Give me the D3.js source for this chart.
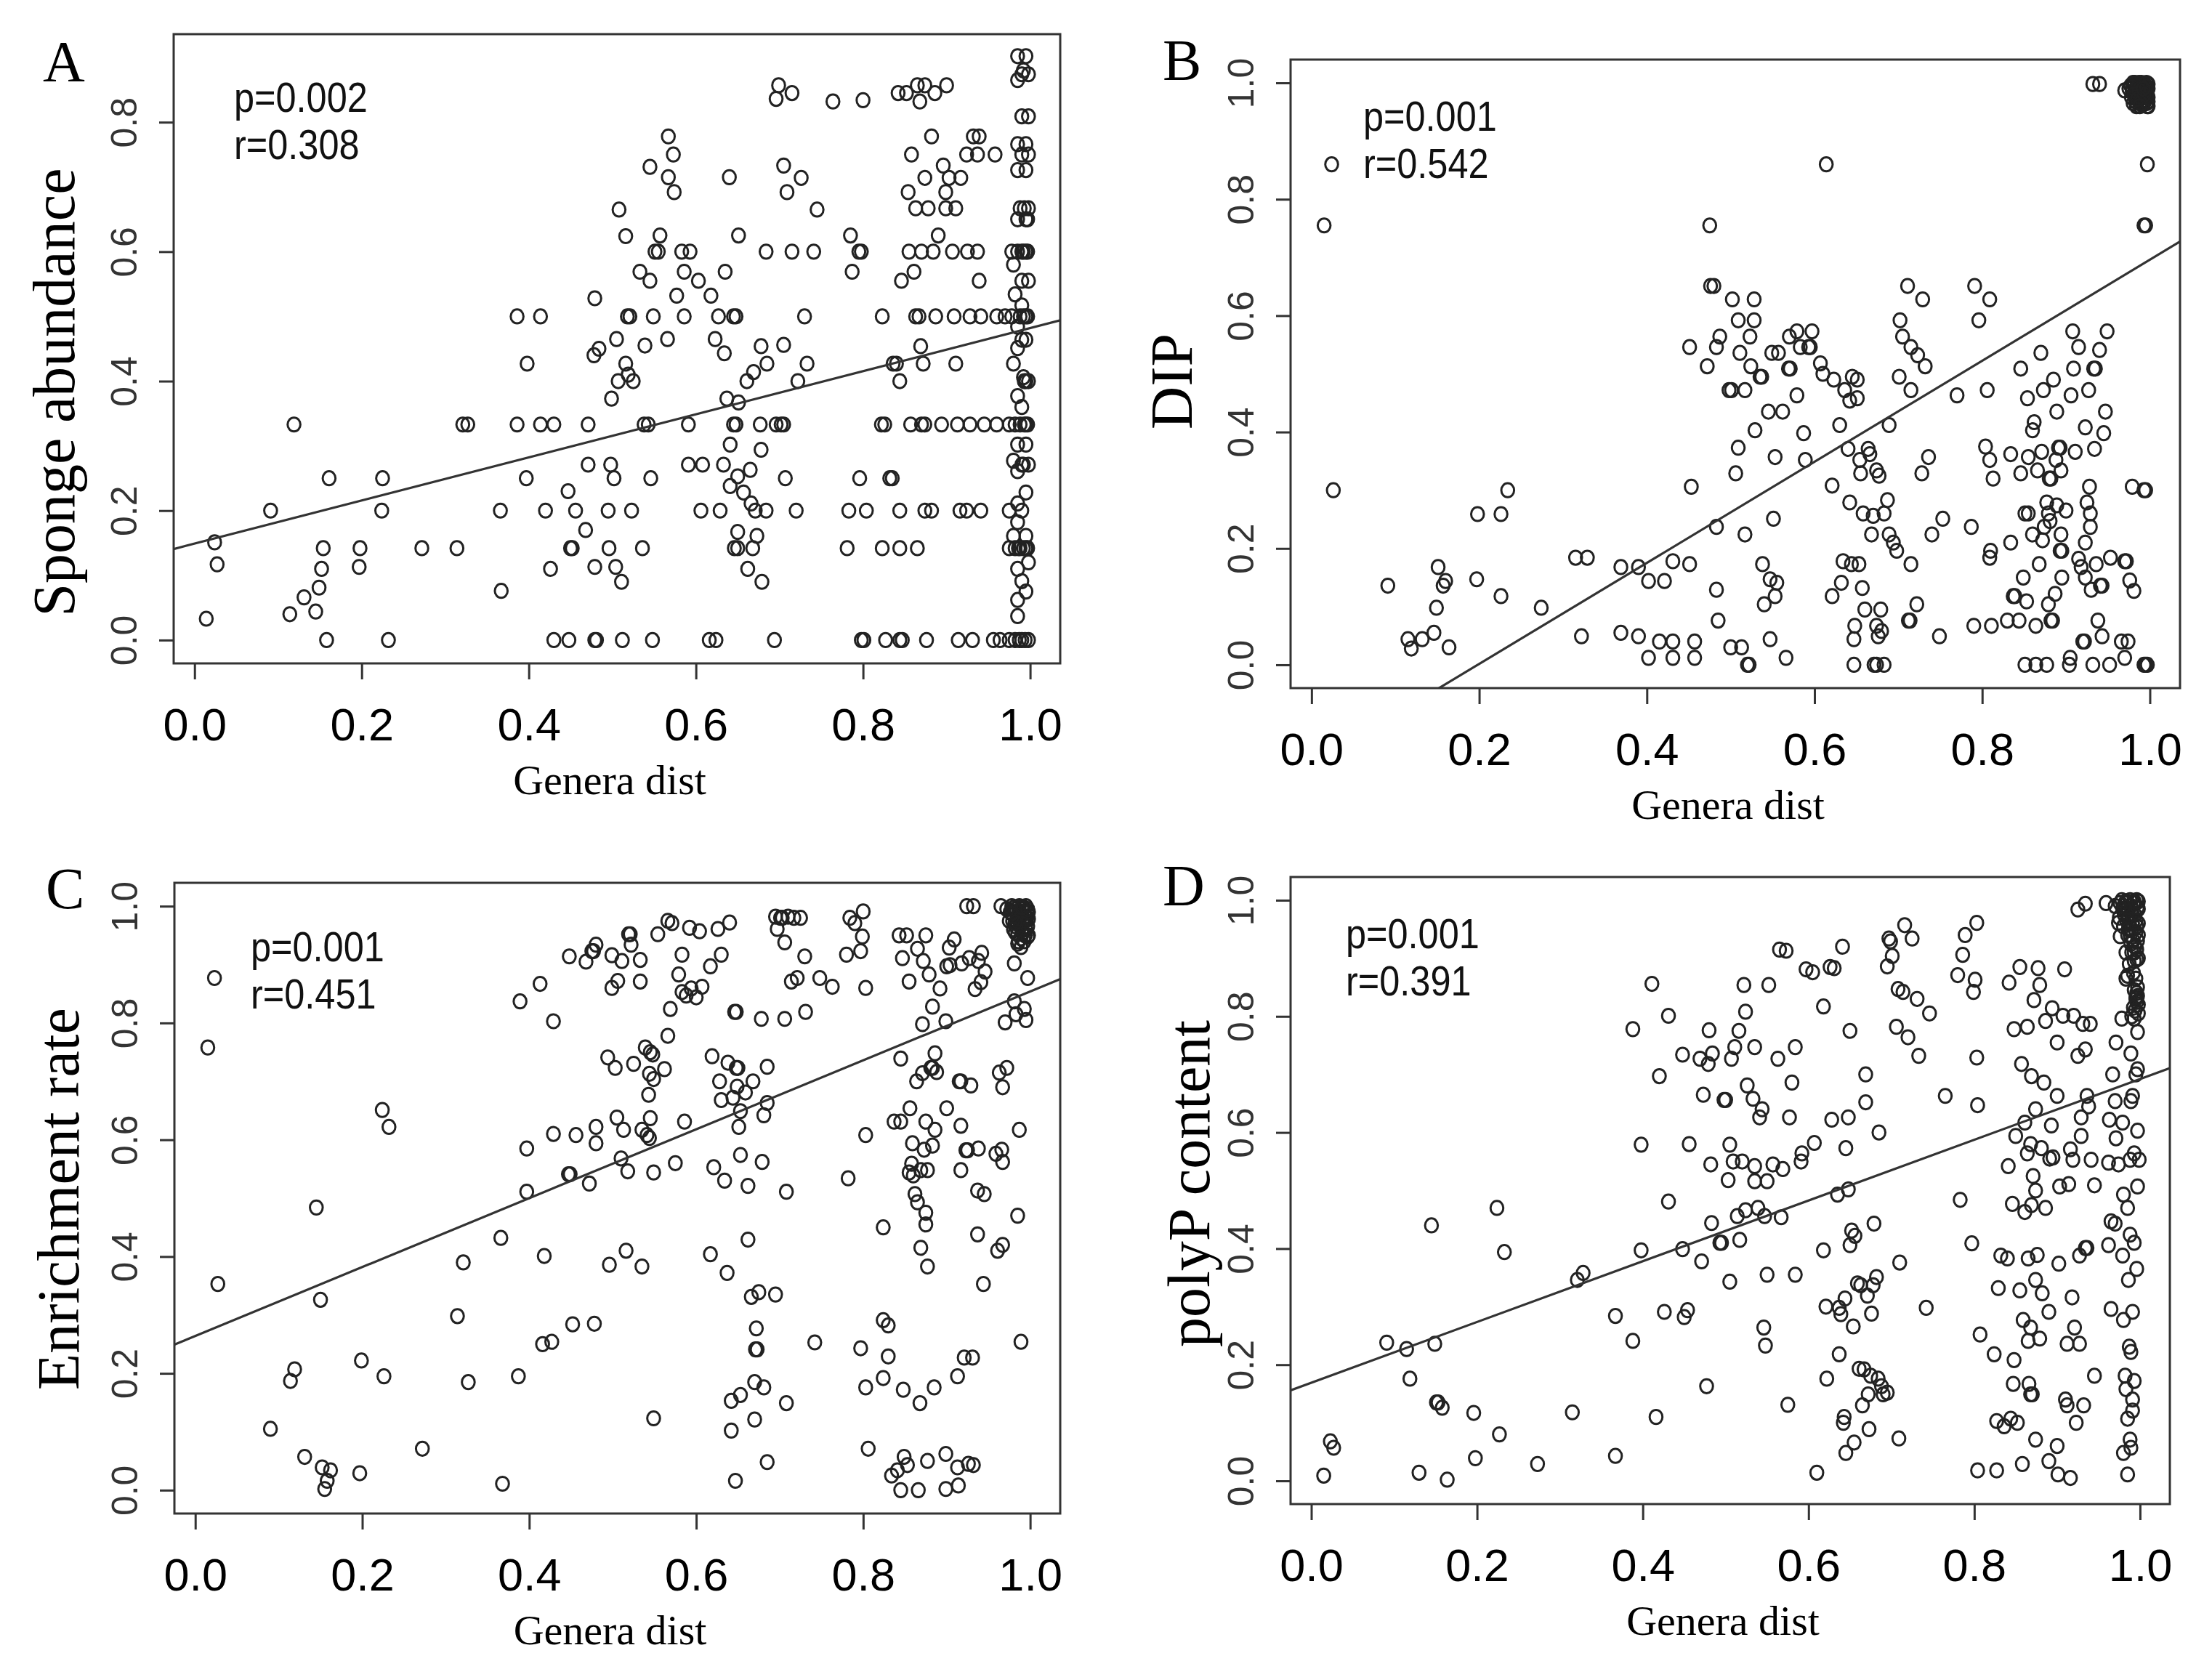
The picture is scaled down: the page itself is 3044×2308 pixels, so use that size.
<!DOCTYPE html>
<html lang="en">
<head>
<meta charset="UTF-8">
<title>Genera dist scatter plots</title>
<script src="https://d3js.org/d3.v7.min.js"></script>
<style>
  body { margin: 0; background: #fff; }
</style>
</head>
<body>
<svg id="chart" width="3044" height="2308"></svg>
<script>
// ---- data ----
const panelLetters = ["A", "B", "C", "D"];
const yTitles = ["Sponge abundance", "DIP", "Enrichment rate", "polyP content"];
const xTitle = "Genera dist";
const pVals = ["0.002", "0.001", "0.001", "0.001"];
const rVals = ["0.308", "0.542", "0.451", "0.391"];
const xTicks = [0, 0.2, 0.4, 0.6, 0.8, 1.0];
const yTicksA = [0, 0.2, 0.4, 0.6, 0.8];
const yTicksBCD = [0, 0.2, 0.4, 0.6, 0.8, 1.0];
// fitted lines: [intercept, slope]
const fitLines = [[0.149, 0.333], [-0.172, 0.868], [0.264, 0.590], [0.169, 0.523]];

const ptsA = [
  [0.014,0.033],[0.024,0.151],[0.027,0.117],[0.091,0.2],[0.114,0.04],[0.119,0.333],[0.131,0.066],[0.145,0.044],
  [0.149,0.081],[0.152,0.11],[0.154,0.142],[0.158,0],[0.161,0.25],[0.197,0.113],[0.198,0.142],[0.224,0.2],
  [0.225,0.25],[0.232,0],[0.272,0.142],[0.314,0.142],[0.321,0.333],[0.327,0.333],[0.366,0.2],[0.367,0.076],
  [0.386,0.5],[0.386,0.333],[0.397,0.25],[0.398,0.427],[0.414,0.5],[0.414,0.333],[0.42,0.2],[0.426,0.11],
  [0.43,0.333],[0.43,0],[0.447,0.23],[0.45,0.142],[0.452,0.142],[0.448,0],[0.456,0.2],[0.468,0.17],
  [0.471,0.333],[0.471,0.271],[0.479,0.528],[0.478,0.44],[0.484,0.45],[0.479,0.113],[0.479,0],[0.481,0],
  [0.495,0.2],[0.496,0.142],[0.498,0.271],[0.499,0.373],[0.502,0.25],[0.504,0.113],[0.505,0.465],[0.508,0.665],
  [0.511,0.09],[0.512,0],[0.516,0.624],[0.516,0.427],[0.507,0.4],[0.518,0.5],[0.521,0.5],[0.519,0.41],
  [0.525,0.4],[0.523,0.2],[0.533,0.569],[0.536,0.142],[0.538,0.333],[0.543,0.333],[0.539,0.455],[0.545,0.555],
  [0.545,0.731],[0.549,0.5],[0.548,0],[0.546,0.25],[0.551,0.6],[0.555,0.6],[0.557,0.625],[0.566,0.465],
  [0.567,0.778],[0.573,0.75],[0.567,0.715],[0.574,0.692],[0.577,0.532],[0.583,0.6],[0.586,0.569],[0.586,0.5],
  [0.591,0.333],[0.593,0.6],[0.591,0.271],[0.606,0.2],[0.603,0.555],[0.608,0.271],[0.618,0.532],[0.616,0],
  [0.624,0],[0.623,0.465],[0.627,0.5],[0.629,0.2],[0.633,0.271],[0.634,0.443],[0.635,0.569],[0.637,0.373],
  [0.64,0.715],[0.641,0.302],[0.641,0.238],[0.645,0.5],[0.648,0.5],[0.645,0.333],[0.648,0.333],[0.646,0.142],
  [0.65,0.142],[0.65,0.253],[0.651,0.367],[0.651,0.625],[0.65,0.167],[0.657,0.228],[0.662,0.11],[0.661,0.4],
  [0.665,0.263],[0.666,0.211],[0.668,0.142],[0.669,0.414],[0.671,0.2],[0.673,0.161],[0.677,0.333],[0.678,0.294],
  [0.678,0.454],[0.679,0.09],[0.684,0.2],[0.684,0.6],[0.685,0.427],[0.694,0],[0.696,0.836],[0.699,0.857],
  [0.696,0.333],[0.702,0.333],[0.705,0.333],[0.705,0.456],[0.705,0.733],[0.707,0.25],[0.709,0.692],[0.715,0.845],
  [0.715,0.6],[0.72,0.2],[0.722,0.4],[0.726,0.714],[0.73,0.5],[0.733,0.427],[0.741,0.6],[0.745,0.665],
  [0.764,0.832],[0.781,0.142],[0.785,0.625],[0.787,0.569],[0.783,0.2],[0.796,0.25],[0.795,0.6],[0.798,0.6],
  [0.8,0.834],[0.804,0.2],[0.798,0],[0.801,0],[0.823,0.5],[0.822,0.333],[0.826,0.333],[0.823,0.142],
  [0.827,0],[0.832,0.25],[0.835,0.25],[0.836,0.427],[0.84,0.427],[0.842,0.845],[0.844,0.142],[0.844,0.4],
  [0.844,0],[0.847,0],[0.846,0.555],[0.844,0.2],[0.852,0.845],[0.854,0.692],[0.855,0.6],[0.857,0.333],
  [0.858,0.75],[0.861,0.569],[0.863,0.667],[0.865,0.857],[0.865,0.142],[0.863,0.5],[0.867,0.5],[0.868,0.832],
  [0.869,0.454],[0.87,0.6],[0.87,0.333],[0.874,0.333],[0.874,0.857],[0.872,0.427],[0.874,0.714],[0.874,0.2],
  [0.876,0],[0.878,0.667],[0.882,0.778],[0.884,0.6],[0.882,0.2],[0.886,0.845],[0.887,0.5],[0.89,0.625],
  [0.894,0.333],[0.896,0.733],[0.899,0.692],[0.899,0.667],[0.9,0.857],[0.903,0.714],[0.907,0.6],[0.909,0.5],
  [0.911,0.427],[0.911,0.667],[0.913,0.333],[0.916,0.2],[0.917,0.714],[0.914,0],[0.924,0.2],[0.924,0.75],
  [0.925,0.6],[0.928,0.5],[0.928,0.333],[0.931,0],[0.932,0.778],[0.937,0.6],[0.939,0.555],[0.939,0.778],
  [0.941,0.2],[0.941,0.5],[0.937,0.75],[0.945,0.333],[0.958,0.75],[0.96,0.5],[0.96,0.333],[0.956,0],[0.964,0],
  [0.985,0.902],[0.995,0.902],[0.99,0.874],[0.998,0.874],[0.985,0.865],[0.99,0.809],[0.998,0.809],[0.985,0.766],
  [0.995,0.766],[0.99,0.75],[0.998,0.75],[0.985,0.726],[0.995,0.726],[0.988,0.667],[0.998,0.667],[0.985,0.65],
  [0.995,0.65],[0.978,0.6],[0.985,0.6],[0.99,0.6],[0.995,0.6],[0.98,0.58],[0.99,0.555],[0.998,0.555],
  [0.982,0.534],[0.99,0.517],[0.97,0.5],[0.978,0.5],[0.988,0.5],[0.995,0.5],[0.985,0.484],[0.99,0.464],
  [0.995,0.464],[0.985,0.451],[0.98,0.427],[0.992,0.406],[0.998,0.4],[0.995,0.4],[0.985,0.377],[0.99,0.36],
  [0.975,0.333],[0.982,0.333],[0.988,0.333],[0.995,0.333],[0.985,0.302],[0.995,0.302],[0.98,0.277],[0.99,0.271],
  [0.998,0.271],[0.985,0.261],[0.995,0.228],[0.985,0.211],[0.975,0.2],[0.99,0.2],[0.985,0.182],[0.995,0.161],
  [0.98,0.161],[0.975,0.142],[0.982,0.142],[0.988,0.142],[0.995,0.142],[0.998,0.12],[0.985,0.11],[0.99,0.091],
  [0.995,0.075],[0.985,0.062],[0.985,0.037],[0.975,0],[0.982,0],[0.99,0],[0.998,0],
  [0.992,0.6],[0.997,0.6],[0.993,0.333],[0.997,0.333],[0.992,0.142],[0.997,0.142],[0.986,0.142],[0.992,0.5],
  [0.997,0.5],[0.993,0.4],[0.992,0.271],[0.997,0.65],[0.993,0.667],[0.987,0],[0.994,0],[0.992,0.88]
];

const ptsB = [
  [0.015,0.755],[0.024,0.86],[0.026,0.3],[0.091,0.136],[0.115,0.044],[0.119,0.028],[0.132,0.044],[0.146,0.055],
  [0.149,0.098],[0.151,0.168],[0.157,0.136],[0.16,0.144],[0.164,0.03],[0.197,0.147],[0.198,0.259],[0.226,0.259],
  [0.226,0.118],[0.234,0.3],[0.274,0.098],[0.315,0.184],[0.329,0.184],[0.322,0.049],[0.369,0.168],[0.369,0.055],
  [0.39,0.168],[0.39,0.049],[0.402,0.012],[0.402,0.144],[0.415,0.04],[0.421,0.144],[0.431,0.178],[0.431,0.012],
  [0.431,0.04],[0.451,0.173],[0.451,0.546],[0.453,0.306],[0.457,0.04],[0.457,0.012],[0.472,0.513],[0.475,0.755],
  [0.476,0.651],[0.48,0.651],[0.483,0.129],[0.483,0.237],[0.485,0.076],[0.483,0.546],[0.487,0.564],[0.498,0.472],
  [0.501,0.472],[0.5,0.03],[0.502,0.628],[0.506,0.329],[0.509,0.373],[0.509,0.592],[0.511,0.536],[0.513,0.03],
  [0.517,0.472],[0.517,0.224],[0.52,0],[0.522,0],[0.523,0.564],[0.524,0.513],[0.528,0.628],[0.528,0.592],
  [0.529,0.403],[0.535,0.495],[0.537,0.495],[0.538,0.173],[0.54,0.104],[0.545,0.435],[0.547,0.147],[0.547,0.044],
  [0.549,0.536],[0.551,0.251],[0.553,0.357],[0.553,0.118],[0.555,0.141],[0.557,0.536],[0.562,0.435],[0.566,0.012],
  [0.569,0.509],[0.571,0.509],[0.57,0.564],[0.579,0.463],[0.579,0.573],[0.583,0.546],[0.587,0.398],[0.589,0.352],
  [0.593,0.546],[0.595,0.546],[0.597,0.573],[0.607,0.518],[0.61,0.5],[0.614,0.86],[0.621,0.308],[0.621,0.118],
  [0.623,0.49],[0.63,0.412],[0.632,0.141],[0.634,0.178],[0.636,0.472],[0.64,0.371],[0.642,0.279],[0.642,0.454],
  [0.644,0.173],[0.645,0.495],[0.647,0],[0.647,0.044],[0.648,0.067],[0.651,0.49],[0.651,0.458],[0.653,0.173],
  [0.654,0.352],[0.655,0.329],[0.657,0.132],[0.658,0.26],[0.66,0.095],[0.664,0.371],[0.666,0.362],[0.668,0.224],
  [0.67,0.256],[0.671,0],[0.674,0],[0.674,0.067],[0.674,0.334],[0.676,0.049],[0.677,0.325],[0.679,0.095],
  [0.68,0.058],[0.683,0],[0.683,0.26],[0.687,0.283],[0.689,0.412],[0.689,0.224],[0.694,0.21],[0.698,0.196],
  [0.701,0.495],[0.702,0.592],[0.705,0.564],[0.711,0.651],[0.712,0.076],[0.714,0.076],[0.715,0.173],[0.715,0.472],
  [0.715,0.546],[0.722,0.104],[0.723,0.532],[0.728,0.329],[0.729,0.628],[0.732,0.513],[0.736,0.357],[0.74,0.224],
  [0.749,0.049],[0.753,0.251],[0.77,0.463],[0.787,0.237],[0.79,0.067],[0.791,0.651],[0.796,0.592],[0.804,0.375],
  [0.806,0.472],[0.809,0.628],[0.809,0.352],[0.809,0.184],[0.81,0.196],[0.813,0.32],[0.811,0.067],[0.83,0.076],
  [0.834,0.21],[0.834,0.362],[0.837,0.118],[0.839,0.118],[0.844,0.076],[0.846,0.509],[0.846,0.329],[0.849,0.15],
  [0.851,0.26],[0.851,0],[0.853,0.109],[0.854,0.458],[0.855,0.357],[0.855,0.26],[0.86,0.224],[0.86,0.403],
  [0.862,0.417],[0.864,0],[0.864,0.067],[0.866,0.334],[0.868,0.173],[0.87,0.536],[0.871,0.366],[0.872,0.214],
  [0.873,0.472],[0.874,0.237],[0.877,0],[0.877,0.279],[0.879,0.104],[0.879,0.26],[0.88,0.32],[0.882,0.32],
  [0.881,0.247],[0.882,0.076],[0.884,0.076],[0.885,0.49],[0.887,0.122],[0.888,0.352],[0.889,0.435],[0.889,0.274],
  [0.891,0.373],[0.893,0.373],[0.894,0.334],[0.894,0.224],[0.893,0.196],[0.895,0.196],[0.895,0.15],[0.9,0.265],
  [0.904,0],[0.905,0.012],[0.906,0.463],[0.908,0.573],[0.909,0.509],[0.911,0.366],[0.915,0.182],[0.915,0.546],
  [0.918,0.168],[0.92,0.04],[0.922,0.04],[0.923,0.408],[0.923,0.21],[0.923,0.15],[0.925,0.279],[0.927,0.472],
  [0.928,0.306],[0.929,0.26],[0.929,0.237],[0.93,0.129],[0.932,0],[0.933,0.509],[0.935,0.509],[0.934,0.371],
  [0.936,0.173],[0.938,0.076],[0.94,0.541],[0.941,0.136],[0.943,0.136],[0.943,0.049],[0.945,0.398],[0.947,0.435],
  [0.949,0.573],[0.952,0],[0.953,0.184],[0.966,0.04],[0.97,0.012],[0.97,0.178],[0.972,0.178],[0.974,0.04],
  [0.976,0.145],[0.979,0.306],[0.981,0.127],[0.993,0.3],[0.995,0.3],[0.993,0],[0.995,0],[0.997,0],
  [0.993,0.755],[0.995,0.755],[0.997,0.86],[0.932,0.998],[0.94,0.998],[0.97,0.987],
  // dense cluster, top right
  [0.975,0.99],[0.98,1.0],[0.982,0.985],[0.985,0.998],[0.986,0.975],[0.988,0.99],[0.99,1.0],[0.99,0.965],
  [0.992,0.98],[0.993,0.995],[0.994,0.97],[0.995,0.985],[0.996,1.0],[0.997,0.96],[0.998,0.975],[0.998,0.99],
  [0.984,0.96],[0.989,0.985],[0.991,0.975],[0.996,0.965],[0.983,0.99],[0.987,1.0],
  [0.977,0.995],[0.979,0.985],[0.981,0.998],[0.983,0.975],[0.985,0.99],[0.987,0.97],[0.989,0.995],[0.991,0.985],
  [0.993,0.965],[0.995,0.975],[0.997,0.99],[0.998,0.998],[0.978,0.975],[0.98,0.965],[0.984,0.985],[0.986,0.995],
  [0.988,0.978],[0.99,0.99],[0.992,0.968],[0.994,0.99],[0.996,0.978],[0.998,0.968],[0.982,1.0],[0.986,0.983],
  [0.99,0.975],[0.994,0.998],[0.997,0.982],[0.979,0.992],[0.983,0.968],[0.987,0.988],[0.991,0.962],[0.995,0.992],
  [0.998,0.96],[0.981,0.98],[0.985,0.972],[0.989,0.965],[0.993,0.98],[0.996,0.993],[0.988,0.96],[0.992,0.99]
];

const ptsC = [
  [0.015,0.758],[0.023,0.877],[0.027,0.353],[0.09,0.105],[0.114,0.187],[0.119,0.207],[0.131,0.057],[0.145,0.484],
  [0.15,0.326],[0.152,0.039],[0.155,0.002],[0.158,0.016],[0.162,0.034],[0.197,0.029],[0.199,0.222],[0.224,0.651],
  [0.226,0.195],[0.232,0.622],[0.272,0.071],[0.314,0.298],[0.321,0.39],[0.327,0.185],[0.366,0.432],[0.368,0.011],
  [0.387,0.195],[0.389,0.837],[0.397,0.585],[0.397,0.511],[0.413,0.867],[0.418,0.401],[0.416,0.25],[0.429,0.61],
  [0.429,0.803],[0.427,0.254],[0.448,0.914],[0.447,0.541],[0.449,0.541],[0.452,0.284],[0.456,0.608],[0.468,0.905],
  [0.472,0.525],[0.475,0.923],[0.477,0.923],[0.48,0.934],[0.478,0.285],[0.48,0.622],[0.48,0.594],[0.494,0.741],
  [0.496,0.386],[0.499,0.916],[0.499,0.86],[0.503,0.723],[0.505,0.638],[0.506,0.872],[0.51,0.568],[0.511,0.906],
  [0.513,0.617],[0.516,0.41],[0.518,0.546],[0.519,0.952],[0.521,0.952],[0.522,0.934],[0.525,0.73],[0.533,0.908],
  [0.533,0.871],[0.535,0.383],[0.535,0.617],[0.539,0.758],[0.541,0.608],[0.543,0.677],[0.544,0.713],[0.544,0.603],
  [0.545,0.637],[0.545,0.75],[0.548,0.746],[0.549,0.704],[0.549,0.123],[0.549,0.544],[0.554,0.952],[0.562,0.721],
  [0.566,0.778],[0.566,0.975],[0.569,0.824],[0.571,0.971],[0.575,0.56],[0.579,0.883],[0.583,0.917],[0.583,0.853],
  [0.586,0.631],[0.588,0.847],[0.592,0.963],[0.594,0.859],[0.6,0.844],[0.604,0.957],[0.607,0.862],[0.617,0.897],
  [0.619,0.743],[0.621,0.553],[0.617,0.404],[0.626,0.961],[0.628,0.7],[0.63,0.668],[0.63,0.917],[0.634,0.53],
  [0.637,0.372],[0.638,0.732],[0.64,0.972],[0.642,0.102],[0.642,0.153],[0.644,0.672],[0.646,0.819],[0.648,0.819],
  [0.647,0.016],[0.648,0.723],[0.65,0.723],[0.649,0.691],[0.651,0.622],[0.653,0.649],[0.653,0.574],[0.653,0.163],
  [0.659,0.681],[0.662,0.521],[0.662,0.429],[0.666,0.331],[0.668,0.7],[0.67,0.121],[0.671,0.241],[0.673,0.241],
  [0.672,0.277],[0.67,0.185],[0.675,0.339],[0.678,0.807],[0.679,0.562],[0.681,0.176],[0.681,0.642],[0.685,0.048],
  [0.685,0.725],[0.685,0.663],[0.695,0.335],[0.695,0.982],[0.697,0.961],[0.701,0.98],[0.703,0.98],[0.706,0.938],
  [0.706,0.807],[0.708,0.149],[0.708,0.511],[0.71,0.982],[0.714,0.871],[0.717,0.98],[0.721,0.877],[0.725,0.98],
  [0.73,0.914],[0.731,0.819],[0.748,0.877],[0.742,0.253],[0.763,0.862],[0.78,0.917],[0.782,0.534],[0.784,0.98],
  [0.79,0.971],[0.797,0.243],[0.797,0.923],[0.799,0.948],[0.8,0.991],[0.803,0.608],[0.803,0.86],[0.803,0.176],
  [0.806,0.071],[0.824,0.45],[0.824,0.192],[0.824,0.291],[0.83,0.282],[0.83,0.229],[0.834,0.025],[0.837,0.631],
  [0.841,0.034],[0.843,0.95],[0.845,0.631],[0.845,0.739],[0.847,0.911],[0.848,0.172],[0.849,0.057],[0.852,0.95],
  [0.853,0.043],[0.845,0],[0.855,0.871],[0.855,0.544],[0.856,0.654],[0.858,0.559],[0.859,0.594],[0.86,0.539],
  [0.862,0.507],[0.864,0.7],[0.865,0.927],[0.865,0.493],[0.866,0],[0.868,0.149],[0.869,0.548],[0.869,0.415],
  [0.871,0.714],[0.871,0.798],[0.872,0.906],[0.873,0.583],[0.875,0.95],[0.875,0.475],[0.875,0.455],[0.875,0.631],
  [0.877,0.383],[0.877,0.548],[0.877,0.05],[0.879,0.883],[0.881,0.723],[0.883,0.723],[0.883,0.59],[0.883,0.828],
  [0.885,0.176],[0.886,0.617],[0.886,0.748],[0.888,0.716],[0.892,0.859],[0.899,0.062],[0.899,0.002],[0.899,0.803],
  [0.9,0.654],[0.9,0.897],[0.903,0.929],[0.904,0.899],[0.909,0.943],[0.913,0.195],[0.913,0.039],[0.914,0.008],
  [0.915,0.7],[0.917,0.7],[0.917,0.548],[0.917,0.624],[0.918,0.902],[0.921,0.227],[0.923,0.582],[0.925,0.582],
  [0.926,0.045],[0.927,0.911],[0.929,0.693],[0.931,0.227],[0.932,0.043],[0.934,0.858],[0.937,0.513],[0.938,0.585],
  [0.937,0.438],[0.938,0.906],[0.941,0.87],[0.944,0.353],[0.945,0.507],[0.942,0.92],[0.946,0.888],[0.932,1.0],
  [0.924,1.0],[0.959,0.576],[0.961,0.41],[0.963,0.715],[0.966,0.583],[0.967,0.42],[0.967,0.69],[0.967,0.562],
  [0.97,0.801],[0.972,0.723],[0.981,0.837],[0.983,0.815],[0.985,0.47],[0.987,0.617],[0.989,0.254],[0.993,0.824],
  [0.995,0.805],[0.997,0.877],[0.981,0.902],[0.985,0.936],[0.991,0.954],
  // dense cluster, top right
  [0.965,1.0],[0.972,0.995],[0.978,1.0],[0.98,0.985],[0.983,0.995],[0.985,0.97],[0.987,1.0],[0.988,0.985],
  [0.99,0.96],[0.991,0.995],[0.992,0.975],[0.993,0.99],[0.994,0.95],[0.995,1.0],[0.996,0.98],[0.997,0.965],
  [0.998,0.99],[0.982,0.955],[0.986,0.94],[0.989,0.93],[0.975,0.975],[0.998,0.95],
  [0.976,0.99],[0.979,0.975],[0.981,0.998],[0.984,0.98],[0.986,0.992],[0.988,0.965],[0.99,0.985],[0.992,0.998],
  [0.994,0.975],[0.996,0.99],[0.998,0.978],[0.983,0.965],[0.987,0.978],[0.991,0.97],[0.995,0.96],[0.997,0.995],
  [0.98,0.96],[0.985,0.952],[0.989,0.945],[0.993,0.94],[0.997,0.948],[0.978,0.988],[0.982,0.972],[0.99,0.998]
];

const ptsD = [
  [0.015,0.009],[0.023,0.068],[0.027,0.057],[0.091,0.238],[0.115,0.227],[0.119,0.176],[0.13,0.014],[0.145,0.44],
  [0.149,0.236],[0.151,0.135],[0.153,0.135],[0.158,0.126],[0.164,0.002],[0.196,0.117],[0.198,0.039],[0.224,0.47],
  [0.227,0.08],[0.233,0.394],[0.273,0.029],[0.315,0.118],[0.321,0.346],[0.328,0.358],[0.367,0.284],[0.367,0.043],
  [0.388,0.778],[0.388,0.241],[0.398,0.397],[0.398,0.579],[0.411,0.856],[0.416,0.11],[0.42,0.697],[0.426,0.291],
  [0.431,0.801],[0.431,0.481],[0.448,0.734],[0.448,0.399],[0.45,0.282],[0.454,0.294],[0.456,0.58],[0.469,0.727],
  [0.471,0.378],[0.473,0.665],[0.477,0.163],[0.479,0.718],[0.48,0.776],[0.482,0.545],[0.483,0.444],[0.484,0.736],
  [0.493,0.41],[0.495,0.41],[0.498,0.656],[0.5,0.656],[0.503,0.518],[0.505,0.579],[0.505,0.343],[0.507,0.727],
  [0.509,0.55],[0.511,0.747],[0.514,0.456],[0.516,0.775],[0.517,0.415],[0.52,0.55],[0.522,0.854],[0.524,0.466],
  [0.524,0.808],[0.526,0.681],[0.533,0.658],[0.535,0.747],[0.535,0.516],[0.535,0.542],[0.539,0.47],[0.541,0.626],
  [0.544,0.64],[0.546,0.264],[0.547,0.456],[0.548,0.233],[0.55,0.355],[0.55,0.516],[0.552,0.854],[0.557,0.545],
  [0.563,0.727],[0.565,0.915],[0.567,0.454],[0.569,0.537],[0.573,0.913],[0.575,0.131],[0.577,0.626],[0.58,0.686],
  [0.584,0.747],[0.584,0.355],[0.591,0.55],[0.592,0.564],[0.597,0.881],[0.605,0.876],[0.607,0.582],[0.61,0.014],
  [0.618,0.817],[0.618,0.397],[0.621,0.3],[0.622,0.176],[0.626,0.885],[0.628,0.622],[0.631,0.883],[0.635,0.493],
  [0.637,0.218],[0.637,0.298],[0.639,0.287],[0.641,0.92],[0.642,0.1],[0.643,0.11],[0.644,0.314],[0.645,0.573],
  [0.645,0.048],[0.648,0.626],[0.648,0.502],[0.65,0.775],[0.65,0.406],[0.652,0.431],[0.654,0.266],[0.655,0.066],
  [0.656,0.422],[0.659,0.34],[0.661,0.193],[0.663,0.337],[0.665,0.13],[0.667,0.192],[0.669,0.7],[0.669,0.652],
  [0.671,0.319],[0.672,0.149],[0.673,0.089],[0.675,0.181],[0.676,0.288],[0.678,0.337],[0.679,0.443],[0.682,0.351],
  [0.684,0.176],[0.685,0.6],[0.688,0.163],[0.69,0.149],[0.695,0.886],[0.695,0.152],[0.697,0.934],[0.699,0.929],
  [0.701,0.904],[0.706,0.782],[0.708,0.847],[0.709,0.073],[0.71,0.376],[0.714,0.842],[0.716,0.957],[0.72,0.764],
  [0.725,0.934],[0.731,0.83],[0.733,0.732],[0.742,0.298],[0.746,0.805],[0.765,0.663],[0.783,0.484],[0.78,0.871],
  [0.786,0.906],[0.789,0.94],[0.797,0.409],[0.799,0.842],[0.801,0.863],[0.803,0.961],[0.803,0.729],[0.804,0.647],
  [0.807,0.252],[0.804,0.018],[0.824,0.218],[0.827,0.018],[0.827,0.103],[0.829,0.332],[0.832,0.388],[0.836,0.094],
  [0.84,0.383],[0.841,0.542],[0.842,0.858],[0.844,0.107],[0.846,0.477],[0.847,0.167],[0.848,0.208],[0.848,0.778],
  [0.85,0.594],[0.852,0.1],[0.855,0.885],[0.855,0.328],[0.857,0.718],[0.858,0.029],[0.859,0.277],[0.861,0.617],
  [0.861,0.463],[0.864,0.564],[0.864,0.782],[0.865,0.241],[0.865,0.383],[0.866,0.167],[0.868,0.264],[0.868,0.58],
  [0.869,0.697],[0.869,0.475],[0.868,0.149],[0.87,0.149],[0.871,0.525],[0.872,0.828],[0.874,0.071],[0.874,0.64],
  [0.874,0.5],[0.874,0.346],[0.876,0.389],[0.877,0.883],[0.879,0.245],[0.879,0.854],[0.881,0.573],[0.882,0.323],
  [0.884,0.686],[0.886,0.792],[0.886,0.47],[0.89,0.291],[0.89,0.034],[0.891,0.555],[0.893,0.612],[0.894,0.814],
  [0.895,0.557],[0.9,0.755],[0.9,0.663],[0.9,0.06],[0.901,0.011],[0.902,0.374],[0.903,0.507],[0.907,0.801],
  [0.909,0.881],[0.91,0.14],[0.912,0.236],[0.912,0.13],[0.914,0.511],[0.916,0.005],[0.916,0.571],[0.918,0.316],
  [0.919,0.553],[0.92,0.801],[0.921,0.264],[0.923,0.1],[0.925,0.732],[0.925,0.984],[0.927,0.388],[0.927,0.236],
  [0.929,0.594],[0.929,0.626],[0.931,0.787],[0.932,0.13],[0.934,0.743],[0.934,0.994],[0.934,0.401],[0.936,0.401],
  [0.936,0.663],[0.938,0.645],[0.94,0.787],[0.941,0.553],[0.945,0.181],[0.945,0.509],[0.959,0.995],[0.962,0.548],
  [0.962,0.406],[0.963,0.622],[0.965,0.447],[0.965,0.296],[0.967,0.7],[0.97,0.443],[0.97,0.654],[0.971,0.59],
  [0.971,0.755],[0.974,0.545],[0.974,0.961],[0.976,0.938],[0.978,0.796],[0.979,0.388],[0.979,0.617],[0.98,0.277],
  [0.98,0.493],[0.98,0.048],[0.982,0.181],[0.983,0.865],[0.983,0.158],[0.985,0.011],[0.985,0.47],[0.985,0.87],
  [0.985,0.107],[0.986,0.346],[0.987,0.231],[0.988,0.071],[0.988,0.553],[0.988,0.424],[0.989,0.057],[0.989,0.222],
  [0.989,0.736],[0.989,0.654],[0.991,0.14],[0.991,0.291],[0.991,0.121],[0.993,0.172],[0.993,0.564],[0.993,0.796],
  [0.995,0.832],[0.995,0.7],[0.996,0.365],[0.996,0.898],[0.997,0.603],[0.997,0.507],[0.997,0.709],[0.999,0.553],
  [0.997,0.773],[0.993,0.41],[0.991,0.663],
  // dense cluster, top right, thinning downward
  [0.97,0.99],[0.975,0.97],[0.978,1.0],[0.98,0.955],[0.982,0.985],[0.984,0.995],[0.985,0.94],[0.986,0.97],
  [0.988,1.0],[0.989,0.925],[0.99,0.985],[0.991,0.96],[0.992,0.995],[0.993,0.91],[0.994,0.975],[0.995,0.945],
  [0.996,1.0],[0.997,0.93],[0.998,0.985],[0.998,0.96],[0.983,0.91],[0.987,0.89],[0.995,0.83],[0.996,0.84],
  [0.998,0.82],[0.99,0.8],
  [0.976,0.995],[0.979,0.985],[0.981,0.975],[0.983,0.998],[0.985,0.985],[0.987,0.96],[0.989,0.99],[0.991,0.975],
  [0.993,0.998],[0.995,0.965],[0.997,0.988],[0.998,0.998],[0.98,0.99],[0.984,0.965],[0.986,0.95],[0.988,0.94],
  [0.99,0.95],[0.992,0.93],[0.994,0.92],[0.996,0.955],[0.998,0.94],[0.99,0.91],[0.993,0.895],[0.996,0.915],
  [0.998,0.9],[0.992,0.875],[0.995,0.865],[0.997,0.85],[0.993,0.845],[0.997,0.835],[0.994,0.81],[0.998,0.805],
  [0.996,0.825],[0.992,0.815]
];

// ---- layout (pixels) ----
const panels = [
  { pts: ptsA, yTicks: yTicksA, yDom: [-0.036, 0.936], box: [239, 47, 1459, 913],
    letter: [59, 112], titleX: 102, titleY: 540, stat: [322, 154] },
  { pts: ptsB, yTicks: yTicksBCD, yDom: [-0.04, 1.04], box: [1776, 82, 3000, 947],
    letter: [1600, 110], titleX: 1640, titleY: 525, stat: [1876, 180] },
  { pts: ptsC, yTicks: yTicksBCD, yDom: [-0.04, 1.04], box: [240, 1215, 1459, 2083],
    letter: [63, 1250], titleX: 108, titleY: 1650, stat: [345, 1323] },
  { pts: ptsD, yTicks: yTicksBCD, yDom: [-0.04, 1.04], box: [1776, 1207, 2986, 2070],
    letter: [1600, 1246], titleX: 1664, titleY: 1629, stat: [1852, 1305] }
];

const ink = "#222";
const serif = "'Liberation Serif', 'Times New Roman', serif";
const sans = "'Liberation Sans', Arial, sans-serif";
const fmt = d3.format(".1f");

const svg = d3.select("#chart");
svg.append("rect").attr("width", 3044).attr("height", 2308).attr("fill", "#fff");

panels.forEach((p, i) => {
  const [x0, y0, x1, y1] = p.box;
  const x = d3.scaleLinear().domain([-0.025, 1.036]).range([x0, x1]);
  const y = d3.scaleLinear().domain(p.yDom).range([y1, y0]);

  const g = svg.append("g");

  // clip for the fitted line
  g.append("clipPath").attr("id", "clip" + i)
    .append("rect").attr("x", x0).attr("y", y0).attr("width", x1 - x0).attr("height", y1 - y0);

  // points (slightly taller than wide, as in the original)
  g.append("g")
    .selectAll("ellipse")
    .data(p.pts)
    .join("ellipse")
    .attr("cx", d => x(d[0]))
    .attr("cy", d => y(d[1]))
    .attr("rx", 8.8)
    .attr("ry", 9.6)
    .attr("fill", "none")
    .attr("stroke", ink)
    .attr("stroke-width", 3);

  // fitted line
  const [b0, b1] = fitLines[i];
  const xd = x.domain();
  g.append("path")
    .attr("clip-path", `url(#clip${i})`)
    .attr("d", d3.line()([[x(xd[0]), y(b0 + b1 * xd[0])], [x(xd[1]), y(b0 + b1 * xd[1])]]))
    .attr("stroke", "#333")
    .attr("stroke-width", 3.2)
    .attr("fill", "none");

  // box
  g.append("rect")
    .attr("x", x0).attr("y", y0).attr("width", x1 - x0).attr("height", y1 - y0)
    .attr("fill", "none").attr("stroke", "#333").attr("stroke-width", 3);

  // x axis
  const gx = g.append("g")
    .attr("transform", `translate(0,${y1})`)
    .call(d3.axisBottom(x).tickValues(xTicks).tickFormat(fmt).tickSize(22).tickSizeOuter(0));
  gx.select(".domain").remove();
  gx.selectAll("line").attr("stroke", "#333").attr("stroke-width", 3);
  gx.selectAll("text")
    .attr("y", 106).attr("dy", null)
    .attr("fill", "#000")
    .style("font-family", sans).style("font-size", "63px");

  // y axis
  const gy = g.append("g")
    .attr("transform", `translate(${x0},0)`)
    .call(d3.axisLeft(y).tickValues(p.yTicks).tickFormat(fmt).tickSize(20).tickSizeOuter(0));
  gy.select(".domain").remove();
  gy.selectAll("line").attr("stroke", "#333").attr("stroke-width", 3);
  gy.selectAll("text")
    .attr("x", null).attr("dy", null)
    .attr("transform", "translate(-51,0) rotate(-90)")
    .attr("text-anchor", "middle")
    .attr("fill", "#333")
    .style("font-family", sans).style("font-size", "50px");

  // axis titles
  g.append("text")
    .attr("x", (x0 + x1) / 2 - 10).attr("y", y1 + 180)
    .attr("text-anchor", "middle")
    .style("font-family", serif).style("font-size", "58px")
    .text(xTitle);

  g.append("text")
    .attr("transform", `translate(${p.titleX},${p.titleY}) rotate(-90)`)
    .attr("text-anchor", "middle")
    .style("font-family", serif).style("font-size", "82px")
    .text(yTitles[i]);

  // panel letter
  g.append("text")
    .attr("x", p.letter[0]).attr("y", p.letter[1])
    .style("font-family", serif).style("font-size", "80px")
    .text(panelLetters[i]);

  // p and r
  const st = g.append("g")
    .attr("transform", `translate(${p.stat[0]},${p.stat[1]}) scale(0.87,1)`)
    .style("font-family", sans).style("font-size", "58px").attr("fill", "#111");
  st.append("text").attr("y", 0).text("p=" + pVals[i]);
  st.append("text").attr("y", 65).text("r=" + rVals[i]);
});
</script>
</body>
</html>
